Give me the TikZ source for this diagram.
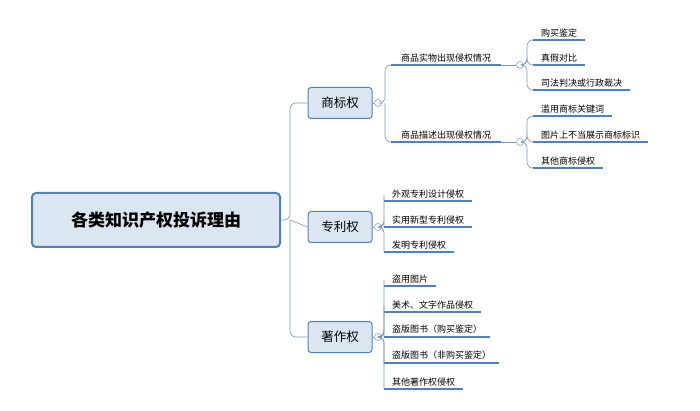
\documentclass[tikz,border=0pt]{standalone}
\usepackage{fontspec}
\setmainfont{Noto Sans CJK SC}
\usetikzlibrary{positioning}

\definecolor{lineblue}{RGB}{79,129,189}
\definecolor{boxfill}{RGB}{220,230,242}
\definecolor{wire}{RGB}{120,150,190}

\tikzset{
    rootbox/.style={draw=lineblue, line width=2pt, fill=boxfill, rounded corners=4pt,
        minimum width=248pt, minimum height=54pt, font=\fontsize{17}{20}\selectfont\bfseries},
    topicbox/.style={draw=lineblue, line width=1pt, fill=boxfill, rounded corners=3pt,
        minimum width=64pt, minimum height=31pt, font=\fontsize{12.5}{15}\selectfont},
    leaf/.style={anchor=south west, inner xsep=8pt, inner ysep=3pt, font=\fontsize{9}{11}\selectfont},
    uline/.style={lineblue, line width=1.6pt},
    wireline/.style={wire, line width=0.6pt, rounded corners=6pt},
    knob/.style={circle, draw=wire, line width=0.5pt, inner sep=0pt, minimum size=7pt, fill=white}
}

\begin{document}
\begin{tikzpicture}[x=1pt, y=-1pt]
    \useasboundingbox (0,0) rectangle (700,411);

    % main boxes
    \node[rootbox] (root) at (156,220) {各类知识产权投诉理由};
    \node[topicbox] (tm) at (340,103) {商标权};
    \node[topicbox] (pat) at (340,227) {专利权};
    \node[topicbox] (cr) at (340,337) {著作权};

    \coordinate (hub) at (290,220);
    \draw[wireline] (root.east) -- (hub) |- (tm.west);
    \draw[wireline] (hub) |- (cr.west);
    \draw[wireline] (hub) -- (pat.west);

    % second level under trademark
    \node[leaf, inner xsep=10pt] (real) at (391,65) {商品实物出现侵权情况};
    \node[leaf, inner xsep=10pt] (desc) at (391,142) {商品描述出现侵权情况};
    \foreach \n in {real,desc}
        \draw[uline] (\n.south west) -- (\n.south east);
    \node[knob] (ktm) at (378,103) {};
    \draw[wireline] (tm.east) -- (ktm.west);
    \draw[wireline] (ktm.east) -- (385,103) |- (real.south west);
    \draw[wireline] (385,103) |- (desc.south west);

    % leaves
    \node[leaf] (buy) at (533,40) {购买鉴定};
    \node[leaf] (fake) at (533,65) {真假对比};
    \node[leaf] (court) at (533,90) {司法判决或行政裁决};
    \node[leaf] (kw) at (533,116) {滥用商标关键词};
    \node[leaf] (img) at (533,142) {图片上不当展示商标标识};
    \node[leaf] (othtm) at (533,168) {其他商标侵权};

    \node[leaf] (look) at (384,201) {外观专利设计侵权};
    \node[leaf] (util) at (384,227) {实用新型专利侵权};
    \node[leaf] (inv) at (384,252) {发明专利侵权};

    \node[leaf] (pic) at (384,286) {盗用图片};
    \node[leaf] (art) at (384,312) {美术、文字作品侵权};
    \node[leaf] (book) at (384,337) {盗版图书（购买鉴定）};
    \node[leaf] (booknb) at (384,363) {盗版图书（非购买鉴定）};
    \node[leaf] (othcr) at (384,389) {其他著作权侵权};

    \foreach \n in {buy,fake,court,kw,img,othtm,look,util,inv,pic,art,book,booknb,othcr}
        \draw[uline] (\n.south west) -- (\n.south east);

    % connectors to leaves
    \node[knob] (kreal) at (520,65) {};
    \node[knob] (kdesc) at (520,142) {};
    \draw[wireline] (real.south east) -- (kreal.west);
    \draw[wireline] (desc.south east) -- (kdesc.west);
    \foreach \n in {buy,fake,court}
        \draw[wireline] (kreal.east) -- (527,65) |- (\n.south west);
    \foreach \n in {kw,img,othtm}
        \draw[wireline] (kdesc.east) -- (527,142) |- (\n.south west);

    \node[knob] (kpat) at (378,227) {};
    \node[knob] (kcr) at (378,337) {};
    \draw[wireline] (pat.east) -- (kpat.west);
    \draw[wireline] (cr.east) -- (kcr.west);
    \foreach \n in {look,util,inv}
        \draw[wireline] (kpat.east) -- (384,227) |- (\n.south west);
    \foreach \n in {pic,art,book,booknb,othcr}
        \draw[wireline] (kcr.east) -- (384,337) |- (\n.south west);

\end{tikzpicture}
\end{document}
